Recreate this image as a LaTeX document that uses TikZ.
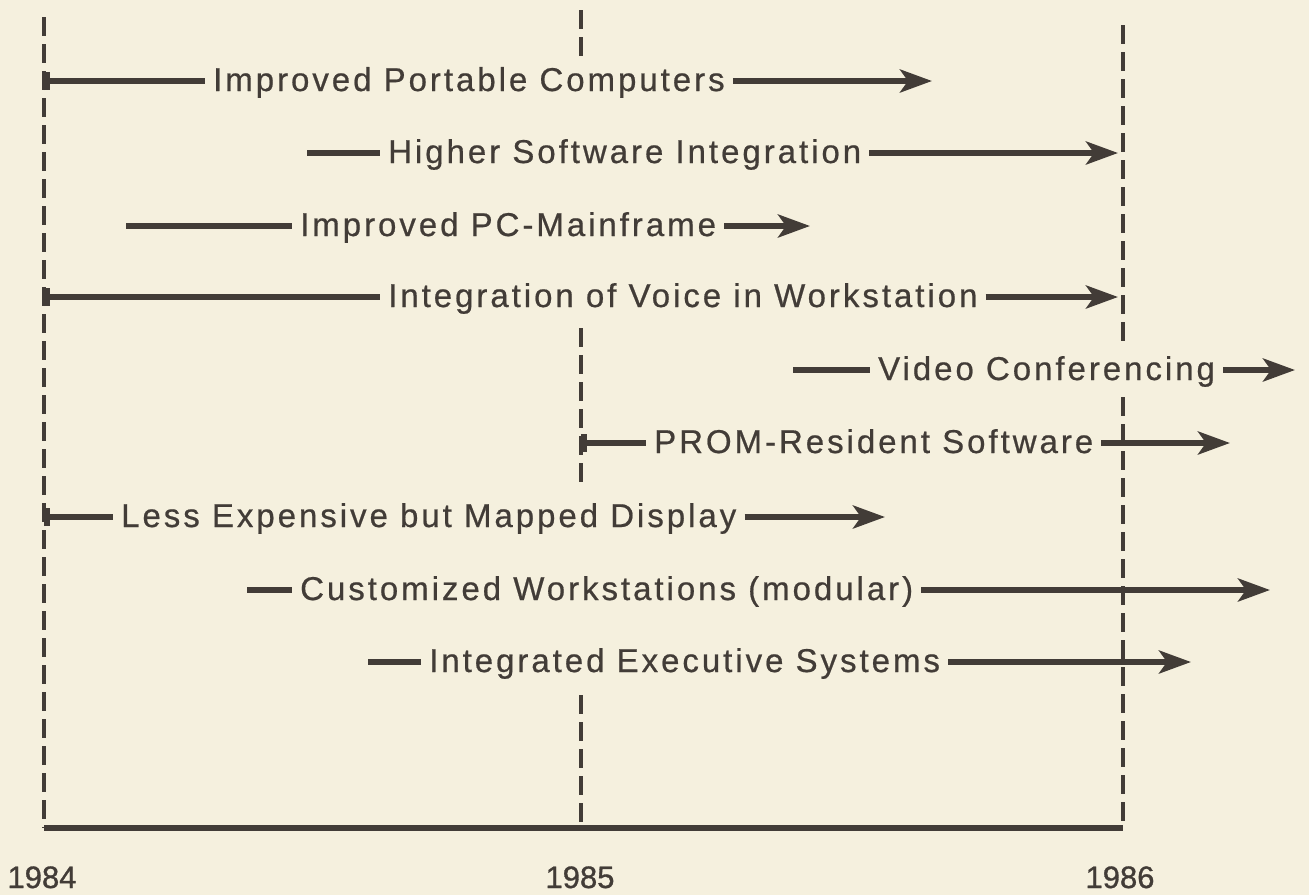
\documentclass[tikz,border=0pt]{standalone}
\usepackage{fontspec}
\setmainfont{Liberation Sans}
\newfontfamily\itemfont{Liberation Sans}[LetterSpace=9, FakeBold=0.6]
\newfontfamily\yearfont{Liberation Sans}[FakeBold=1]
\usetikzlibrary{arrows.meta}
\definecolor{paper}{RGB}{245,240,222}
\definecolor{ink}{RGB}{66,60,55}
\begin{document}
\begin{tikzpicture}[x=1pt,y=-1pt,
  yearline/.style={ink, line width=3.5pt, dash pattern=on 19pt off 8pt},
  lead/.style={ink, line width=5.5pt},
  leadbar/.style={ink, line width=5.5pt, {Bar[width=18pt]}-},
  trend/.style={ink, line width=5.5pt, -{Stealth[length=32pt,width=23pt,inset=8pt]}},
  item/.style={anchor=base west, inner xsep=8pt, inner ysep=0pt, text=ink,
               font=\itemfont\fontsize{33}{39}\selectfont},
  year/.style={anchor=base, inner sep=0pt, text=ink,
               font=\yearfont\fontsize{31}{36}\selectfont}]

\useasboundingbox[fill=paper] (0,0) rectangle (1309,895);

% year markers
\coordinate (y84top) at (44,17);
\coordinate (y84bot) at (44,828);
\coordinate (y85a) at (581,10);
\coordinate (y85b) at (581,58);
\coordinate (y85c) at (581,328);
\coordinate (y85d) at (581,483);
\coordinate (y85e) at (581,695);
\coordinate (y85bot) at (581,828);
\coordinate (y86top) at (1123,25);
\coordinate (y86b) at (1123,345);
\coordinate (y86c) at (1123,397);
\coordinate (y86bot) at (1123,828);

\draw[yearline] (y84top) -- (y84bot);
\draw[yearline] (y85a) -- (y85b);
\draw[yearline] (y85c) -- (y85d);
\draw[yearline] (y85e) -- (y85bot);
\draw[yearline] (y86top) -- (y86b);
\draw[yearline] (y86c) -- (y86bot);

% time axis
\draw[ink, line width=6pt] (y84bot) -- (y86bot);

\node[year] (l84) at (42,888) {1984};
\node[year] (l85) at (580,888) {1985};
\node[year] (l86) at (1120,888) {1986};

% 1: Improved Portable Computers
\coordinate (s1) at (44,81);   \coordinate (e1) at (932,81);
\node[item] (t1) at (205,91) {Improved Portable Computers};
\draw[leadbar] (s1) -- (t1.west |- s1);
\draw[trend] (t1.east |- e1) -- (e1);

% 2: Higher Software Integration
\coordinate (s2) at (307,153); \coordinate (e2) at (1118,153);
\node[item] (t2) at (380,163) {Higher Software Integration};
\draw[lead] (s2) -- (t2.west |- s2);
\draw[trend] (t2.east |- e2) -- (e2);

% 3: Improved PC-Mainframe
\coordinate (s3) at (126,226); \coordinate (e3) at (810,226);
\node[item] (t3) at (292,236) {Improved PC-Mainframe};
\draw[lead] (s3) -- (t3.west |- s3);
\draw[trend] (t3.east |- e3) -- (e3);

% 4: Integration of Voice in Workstation
\coordinate (s4) at (44,297);  \coordinate (e4) at (1118,297);
\node[item] (t4) at (380,307) {Integration of Voice in Workstation};
\draw[leadbar] (s4) -- (t4.west |- s4);
\draw[trend] (t4.east |- e4) -- (e4);

% 5: Video Conferencing
\coordinate (s5) at (793,370); \coordinate (e5) at (1295,370);
\node[item] (t5) at (870,380) {Video Conferencing};
\draw[lead] (s5) -- (t5.west |- s5);
\draw[trend] (t5.east |- e5) -- (e5);

% 6: PROM-Resident Software
\coordinate (s6) at (581,443); \coordinate (e6) at (1230,443);
\node[item] (t6) at (646,453) {PROM-Resident Software};
\draw[leadbar] (s6) -- (t6.west |- s6);
\draw[trend] (t6.east |- e6) -- (e6);

% 7: Less Expensive but Mapped Display
\coordinate (s7) at (44,517);  \coordinate (e7) at (885,517);
\node[item] (t7) at (113,527) {Less Expensive but Mapped Display};
\draw[leadbar] (s7) -- (t7.west |- s7);
\draw[trend] (t7.east |- e7) -- (e7);

% 8: Customized Workstations (modular)
\coordinate (s8) at (247,590); \coordinate (e8) at (1270,590);
\node[item] (t8) at (292,600) {Customized Workstations (modular)};
\draw[lead] (s8) -- (t8.west |- s8);
\draw[trend] (t8.east |- e8) -- (e8);

% 9: Integrated Executive Systems
\coordinate (s9) at (368,662); \coordinate (e9) at (1191,662);
\node[item] (t9) at (421,672) {Integrated Executive Systems};
\draw[lead] (s9) -- (t9.west |- s9);
\draw[trend] (t9.east |- e9) -- (e9);

\end{tikzpicture}
\end{document}
